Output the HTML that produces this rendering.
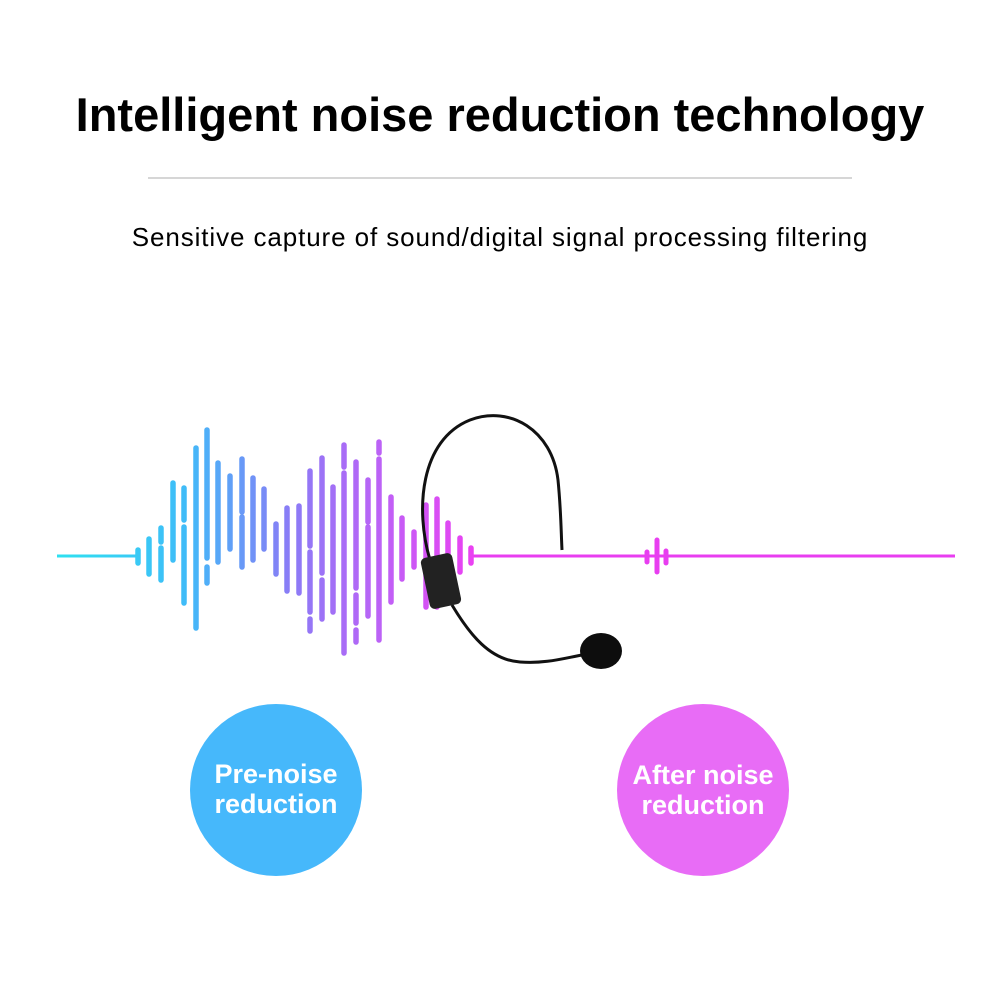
<!DOCTYPE html>
<html><head><meta charset="utf-8"><style>
html,body{margin:0;padding:0;background:#fff;width:1000px;height:1000px;overflow:hidden;font-family:"Liberation Sans",sans-serif}
</style></head><body>
<svg width="1000" height="1000" viewBox="0 0 1000 1000" xmlns="http://www.w3.org/2000/svg">
<defs>
<linearGradient id="g" gradientUnits="userSpaceOnUse" x1="57" y1="0" x2="480" y2="0">
<stop offset="0" stop-color="#2ee0f0"/>
<stop offset="0.3" stop-color="#3fbcf8"/>
<stop offset="0.55" stop-color="#8a7cf6"/>
<stop offset="0.78" stop-color="#c060f6"/>
<stop offset="1" stop-color="#ee3ef2"/>
</linearGradient>
</defs>
<text x="500" y="131" text-anchor="middle" font-size="47" font-weight="bold" fill="#000">Intelligent noise reduction technology</text>
<line x1="148" y1="178" x2="852" y2="178" stroke="#c8c8c8" stroke-width="1.5"/>
<text x="500" y="246" text-anchor="middle" font-size="26" letter-spacing="0.9" fill="#000">Sensitive capture of sound/digital signal processing filtering</text>

<line x1="57" y1="556" x2="138" y2="556" stroke="url(#g)" stroke-width="3"/>
<line x1="471" y1="556" x2="955" y2="556" stroke="#e83ef0" stroke-width="3"/>
<g stroke="url(#g)" stroke-width="5.5" stroke-linecap="round">
<path d="M138 550V563M149 539V574M161 528V542M161 548V580M173 483V560M184 488V520M184 527V603M196 448V628M207 430V558M207 567V583M218 463V562M230 476V549M242 459V512M242 517V567M253 478V560M264 489V549M276 524V574M287 508V591M299 506V593M310 471V546M310 552V612M310 619V631M322 458V573M322 580V619M333 487V612M344 445V467M344 473V653M356 462V588M356 595V623M356 630V642M368 480V522M368 527V616M379 442V453M379 459V640M391 497V602M402 518V579M414 532V567M426 505V607M437 499V607M448 523V573M460 538V572M471 548V563"/>
</g>
<g stroke="#e83ef0" stroke-width="5" stroke-linecap="round">
<path d="M647 552V562M657 540V572M666 551V563"/>
</g>

<path d="M430 560 C415 510,420 440,470 420 C510 405,552 430,558 480 C561 510,561 530,562 550" fill="none" stroke="#111" stroke-width="3"/>
<path d="M452 605 C470 635,490 660,520 662 C545 664,565 658,582 655" fill="none" stroke="#111" stroke-width="3"/>
<rect x="425" y="555" width="32" height="52" rx="5" fill="#222" transform="rotate(-12 441 581)"/>
<ellipse cx="601" cy="651" rx="21" ry="18" fill="#0d0d0d"/>

<circle cx="276" cy="790" r="86" fill="#46b8fb"/>
<circle cx="703" cy="790" r="86" fill="#e86cf6"/>
<g font-size="27" font-weight="bold" fill="#fff" text-anchor="middle">
<text x="276" y="783">Pre-noise</text>
<text x="276" y="813">reduction</text>
<text x="703" y="784">After noise</text>
<text x="703" y="814">reduction</text>
</g>
</svg>
</body></html>
